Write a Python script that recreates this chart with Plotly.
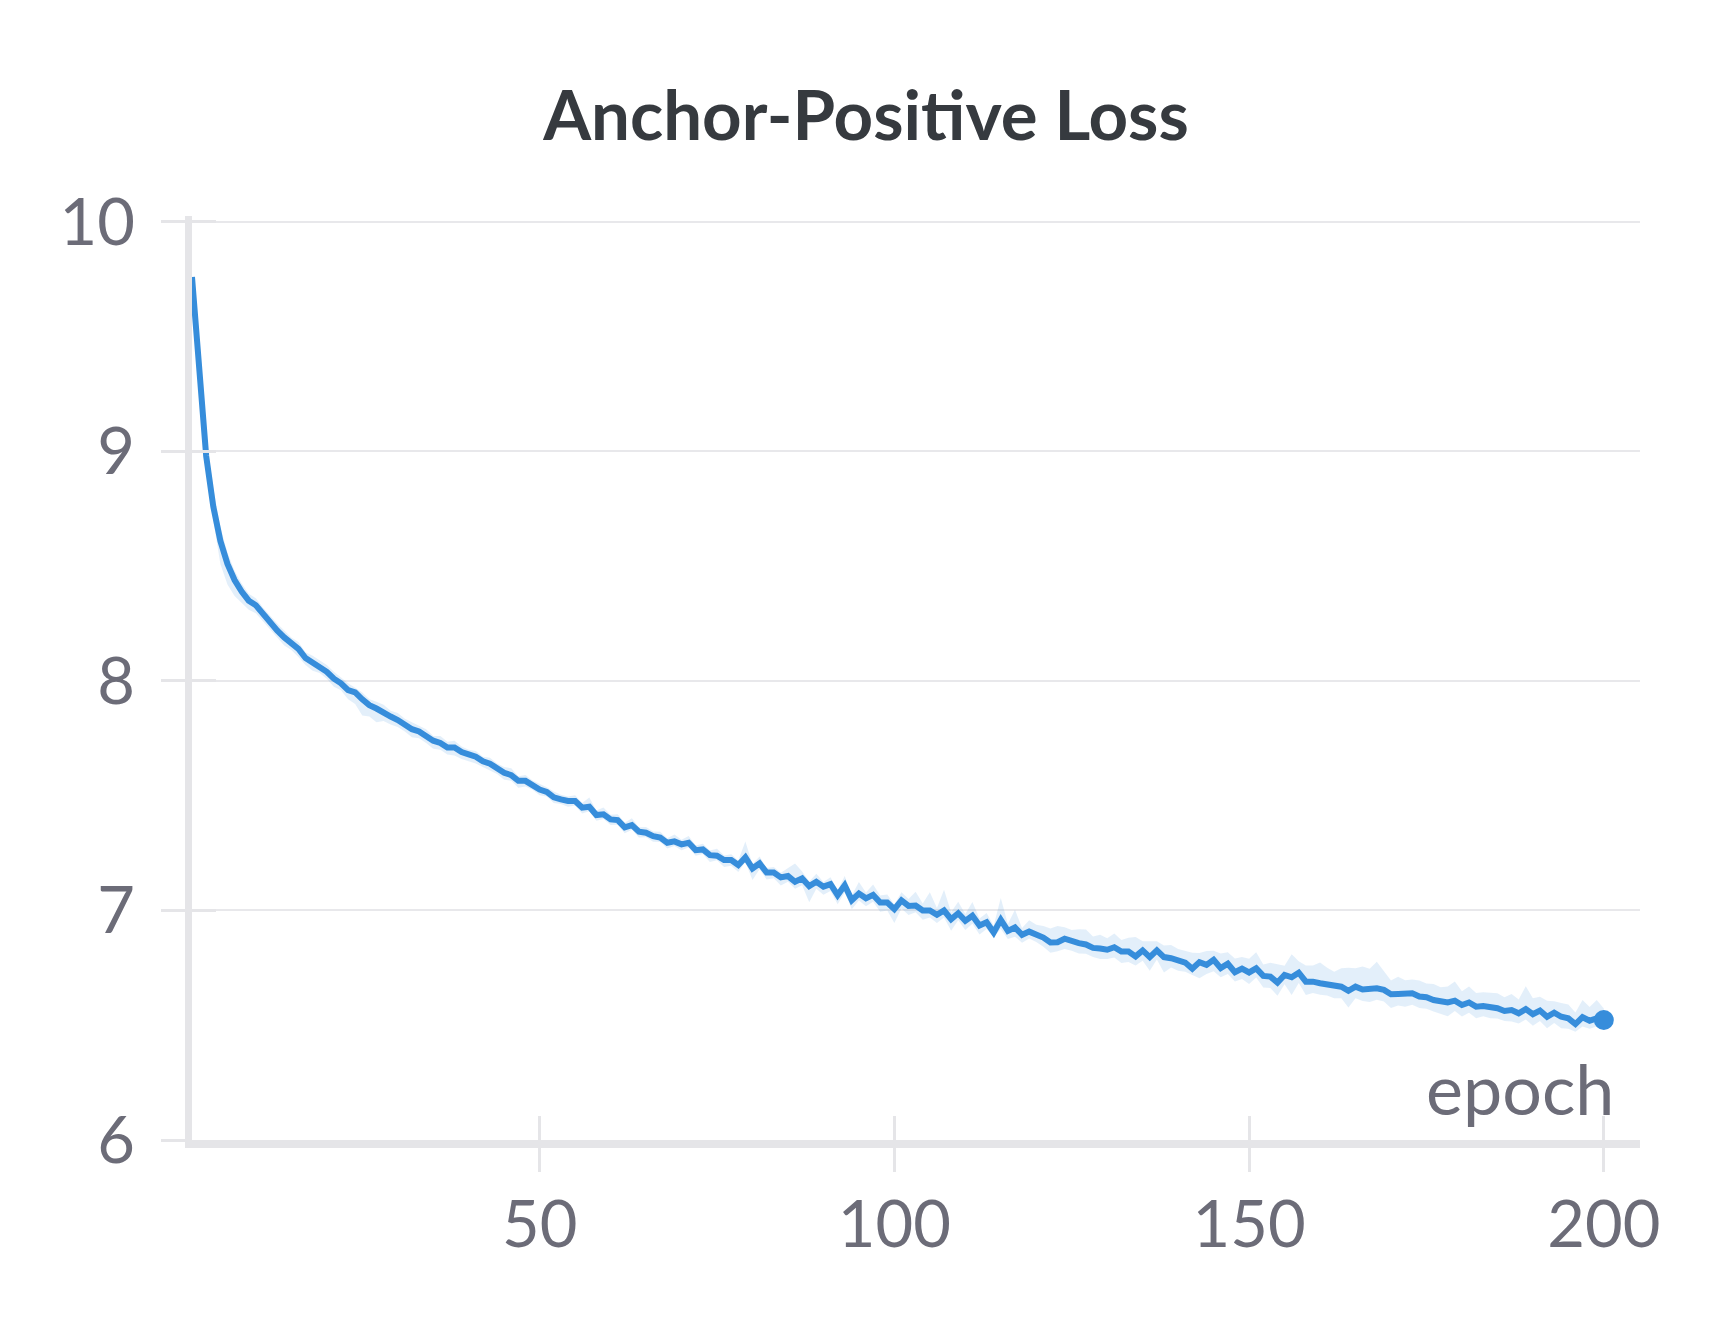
import plotly.graph_objects as go

epochs = list(range(1, 201))

loss = [
    9.76, 9.33, 8.98, 8.76, 8.61, 8.51, 8.44, 8.39, 8.35, 8.33,
    8.29, 8.26, 8.22, 8.19, 8.165, 8.14, 8.10, 8.08, 8.065, 8.04,
    8.01, 7.99, 7.96, 7.95, 7.92, 7.895, 7.88, 7.866, 7.845, 7.83,
    7.81, 7.79, 7.78, 7.76, 7.74, 7.73, 7.71, 7.71, 7.69, 7.68,
    7.67, 7.65, 7.64, 7.62, 7.60, 7.59, 7.565, 7.565, 7.546, 7.527,
    7.517, 7.493, 7.484, 7.477, 7.477, 7.448, 7.452, 7.416, 7.419, 7.397,
    7.394, 7.362, 7.372, 7.343, 7.339, 7.324, 7.318, 7.295, 7.301, 7.288,
    7.295, 7.263, 7.266, 7.241, 7.239, 7.22, 7.22, 7.198, 7.231, 7.183,
    7.205, 7.165, 7.165, 7.144, 7.15, 7.125, 7.14, 7.106, 7.125, 7.104,
    7.115, 7.067, 7.11, 7.045, 7.074, 7.053, 7.068, 7.035, 7.035, 7.006,
    7.044, 7.02, 7.022, 7.0, 7.0, 6.981, 7.0, 6.962, 6.988, 6.955,
    6.977, 6.935, 6.949, 6.904, 6.959, 6.911, 6.926, 6.894, 6.908, 6.898,
    6.882, 6.861, 6.862, 6.877, 6.865, 6.858, 6.852, 6.837, 6.834, 6.829,
    6.84, 6.821, 6.821, 6.8, 6.826, 6.797, 6.826, 6.797, 6.792, 6.782,
    6.773, 6.746, 6.775, 6.763, 6.785, 6.749, 6.768, 6.731, 6.747, 6.73,
    6.748, 6.715, 6.712, 6.686, 6.719, 6.709, 6.729, 6.69, 6.69, 6.683,
    6.68, 6.673, 6.668, 6.65, 6.668, 6.656, 6.656, 6.661, 6.654, 6.635,
    6.636, 6.636, 6.639, 6.625, 6.622, 6.61, 6.606, 6.599, 6.607, 6.588,
    6.599, 6.581, 6.584, 6.581, 6.574, 6.562, 6.566, 6.552, 6.57, 6.548,
    6.564, 6.537, 6.555, 6.537, 6.53, 6.505, 6.535, 6.52, 6.53, 6.523,
]

# spread of the shaded band above / below the line
band_up = [
    0.00, 0.05, 0.08, 0.08, 0.06, 0.05, 0.04, 0.035, 0.03, 0.03,
    0.03, 0.025, 0.03, 0.03, 0.025, 0.03, 0.025, 0.03, 0.025, 0.03,
    0.03, 0.025, 0.03, 0.02, 0.03, 0.025, 0.03, 0.03, 0.025, 0.03,
    0.025, 0.03, 0.025, 0.03, 0.02, 0.03, 0.025, 0.03, 0.025, 0.02,
    0.025, 0.02, 0.025, 0.02, 0.025, 0.03, 0.02, 0.025, 0.02, 0.025,
    0.02, 0.025, 0.02, 0.02, 0.025, 0.02, 0.04, 0.02, 0.03, 0.02,
    0.025, 0.02, 0.03, 0.02, 0.025, 0.02, 0.025, 0.02, 0.03, 0.02,
    0.03, 0.02, 0.025, 0.02, 0.03, 0.02, 0.025, 0.02, 0.07, 0.02,
    0.03, 0.02, 0.025, 0.02, 0.035, 0.08, 0.03, 0.02, 0.035, 0.02,
    0.03, 0.02, 0.04, 0.02, 0.05, 0.025, 0.045, 0.03, 0.035, 0.02,
    0.035, 0.03, 0.06, 0.03, 0.08, 0.03, 0.09, 0.03, 0.05, 0.03,
    0.06, 0.03, 0.04, 0.03, 0.095, 0.03, 0.077, 0.03, 0.05, 0.04,
    0.05, 0.06, 0.07, 0.05, 0.05, 0.06, 0.065, 0.05, 0.06, 0.05,
    0.06, 0.05, 0.06, 0.085, 0.04, 0.07, 0.04, 0.05, 0.058, 0.05,
    0.05, 0.07, 0.04, 0.06, 0.04, 0.064, 0.05, 0.06, 0.05, 0.06,
    0.07, 0.05, 0.06, 0.08, 0.04, 0.10, 0.05, 0.07, 0.07, 0.09,
    0.07, 0.06, 0.08, 0.10, 0.08, 0.10, 0.09, 0.116, 0.08, 0.06,
    0.075, 0.06, 0.06, 0.07, 0.06, 0.07, 0.06, 0.07, 0.084, 0.06,
    0.07, 0.06, 0.06, 0.06, 0.065, 0.06, 0.07, 0.06, 0.10, 0.07,
    0.06, 0.07, 0.05, 0.06, 0.06, 0.05, 0.075, 0.06, 0.08, 0.05,
]

band_dn = [
    0.00, 0.02, 0.03, 0.06, 0.10, 0.09, 0.07, 0.05, 0.04, 0.035,
    0.03, 0.035, 0.03, 0.035, 0.03, 0.035, 0.03, 0.035, 0.03, 0.03,
    0.035, 0.03, 0.04, 0.05, 0.07, 0.05, 0.06, 0.04, 0.035, 0.03,
    0.03, 0.035, 0.03, 0.03, 0.035, 0.03, 0.03, 0.035, 0.03, 0.03,
    0.03, 0.025, 0.03, 0.025, 0.03, 0.025, 0.03, 0.025, 0.02, 0.025,
    0.02, 0.025, 0.02, 0.025, 0.02, 0.025, 0.02, 0.025, 0.02, 0.025,
    0.02, 0.025, 0.02, 0.025, 0.02, 0.025, 0.02, 0.025, 0.02, 0.025,
    0.02, 0.025, 0.02, 0.03, 0.02, 0.03, 0.025, 0.03, 0.02, 0.05,
    0.025, 0.03, 0.025, 0.035, 0.025, 0.03, 0.03, 0.07, 0.03, 0.035,
    0.03, 0.04, 0.03, 0.04, 0.03, 0.035, 0.03, 0.04, 0.035, 0.06,
    0.035, 0.04, 0.03, 0.04, 0.03, 0.035, 0.03, 0.05, 0.03, 0.04,
    0.035, 0.04, 0.03, 0.02, 0.04, 0.035, 0.04, 0.035, 0.03, 0.035,
    0.04, 0.045, 0.04, 0.045, 0.04, 0.045, 0.04, 0.04, 0.045, 0.04,
    0.045, 0.05, 0.045, 0.04, 0.045, 0.06, 0.04, 0.067, 0.04, 0.045,
    0.04, 0.026, 0.07, 0.04, 0.05, 0.04, 0.045, 0.04, 0.045, 0.05,
    0.04, 0.05, 0.05, 0.058, 0.04, 0.077, 0.045, 0.058, 0.05, 0.05,
    0.05, 0.055, 0.05, 0.073, 0.05, 0.05, 0.055, 0.05, 0.05, 0.06,
    0.05, 0.055, 0.05, 0.05, 0.05, 0.05, 0.055, 0.06, 0.045, 0.05,
    0.045, 0.05, 0.045, 0.05, 0.045, 0.044, 0.05, 0.044, 0.045, 0.05,
    0.045, 0.05, 0.045, 0.05, 0.045, 0.033, 0.04, 0.035, 0.035, 0.03,
]

x_ticks = [50, 100, 150, 200]
y_ticks = [6, 7, 8, 9, 10]

upper = [v + u for v, u in zip(loss, band_up)]
lower = [v - d for v, d in zip(loss, band_dn)]

LINE = "#368ddb"
AXIS = "#e5e5e8"
GRID = "#e8e8eb"
TICKTXT = "#6c6c78"
FONT = "Source Sans Pro, Lato, sans-serif"

fig = go.Figure()
fig.add_trace(go.Scatter(x=epochs, y=upper, mode="lines", line=dict(width=0),
                         hoverinfo="skip", showlegend=False))
fig.add_trace(go.Scatter(x=epochs, y=lower, mode="lines", line=dict(width=0),
                         fill="tonexty", fillcolor="rgba(54,141,219,0.14)",
                         hoverinfo="skip", showlegend=False))
fig.add_trace(go.Scatter(x=epochs, y=loss, mode="lines",
                         line=dict(color=LINE, width=6), showlegend=False))
fig.add_trace(go.Scatter(x=[epochs[-1]], y=[loss[-1]], mode="markers",
                         marker=dict(color=LINE, size=20), showlegend=False))
# helper trace for the overlay axes that draw the inner half of the ticks
fig.add_trace(go.Scatter(x=[None], y=[None], xaxis="x2", yaxis="y2",
                         showlegend=False, hoverinfo="skip"))

xr = [1, 205.1]
yr = [6, 10.026]

fig.update_layout(
    width=1728, height=1328,
    margin=dict(l=184, r=96, t=208, b=196, pad=0),
    paper_bgcolor="white", plot_bgcolor="white",
    font=dict(family=FONT, color=TICKTXT),
    title=dict(text="<b>Anchor-Positive Loss</b>", x=0.4965, xanchor="center",
               y=1 - 108 / 1328, yanchor="middle", yref="container",
               font=dict(family=FONT, size=69, color="#363a3f")),
    xaxis=dict(range=xr, tickvals=x_ticks, showgrid=False, zeroline=False,
               showline=True, linecolor=AXIS, linewidth=8,
               ticks="outside", ticklen=24, tickwidth=3, tickcolor=AXIS,
               tickfont=dict(size=65, color=TICKTXT), ticklabelstandoff=-3),
    yaxis=dict(range=yr, tickvals=y_ticks, showgrid=True, gridcolor=GRID,
               gridwidth=2, zeroline=False,
               showline=True, linecolor=AXIS, linewidth=7,
               ticks="outside", ticklen=24, tickwidth=3, tickcolor=AXIS,
               tickfont=dict(size=65, color=TICKTXT), ticklabelstandoff=13),
    xaxis2=dict(range=xr, tickvals=x_ticks, overlaying="x", anchor="y2",
                showgrid=False, zeroline=False, showline=False,
                ticks="inside", ticklen=24, tickwidth=3, tickcolor=AXIS,
                showticklabels=False),
    yaxis2=dict(range=yr, tickvals=y_ticks, overlaying="y", anchor="x2",
                showgrid=False, zeroline=False, showline=False,
                ticks="inside", ticklen=24, tickwidth=3, tickcolor=AXIS,
                showticklabels=False),
    annotations=[dict(text="epoch", xref="paper", yref="paper",
                      x=(1616 - 192) / 1448, y=0, xanchor="right",
                      yanchor="bottom", yshift=8, showarrow=False,
                      font=dict(family=FONT, size=70, color=TICKTXT))],
    showlegend=False,
)

fig.write_html("out.html")
